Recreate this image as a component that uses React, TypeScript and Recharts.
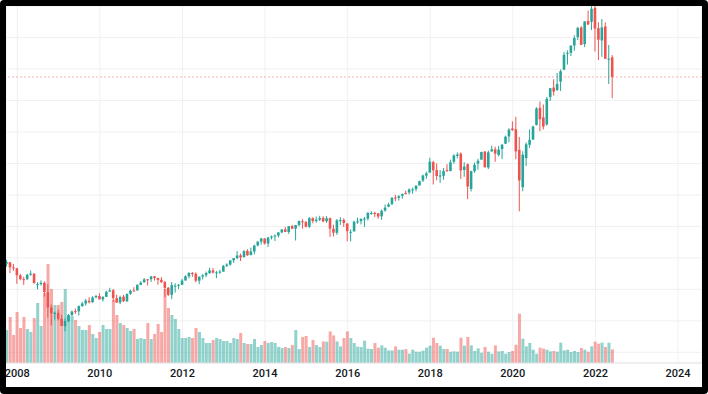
import { ComposedChart, Bar, XAxis, YAxis, CartesianGrid, ReferenceLine } from 'recharts'

// monthly bars, first one is Oct 2007; x = months since Jan 2008
const firstMonth = -3

// OHLC, one row per year (2007 holds Oct-Dec, 2022 holds Jan-Jun)
const opens = [
  1527, 1545, 1479,
  1468, 1378, 1330, 1327, 1386, 1400, 1262, 1267, 1283, 1164, 968, 888,
  903, 826, 730, 794, 872, 923, 920, 987, 1020, 1055, 1037, 1099,
  1116, 1073, 1105, 1171, 1188, 1088, 1032, 1108, 1050, 1143, 1186, 1186,
  1257, 1289, 1328, 1329, 1365, 1345, 1321, 1292, 1220, 1131, 1238, 1246,
  1258, 1313, 1366, 1408, 1398, 1310, 1362, 1380, 1406, 1441, 1412, 1416,
  1426, 1498, 1515, 1569, 1598, 1632, 1610, 1690, 1636, 1682, 1758, 1806,
  1846, 1783, 1858, 1873, 1885, 1924, 1962, 1929, 2004, 1972, 2019, 2066,
  2059, 1997, 2105, 2068, 2087, 2108, 2067, 2105, 1970, 1919, 2079, 2082,
  2038, 1928, 1937, 2057, 2067, 2093, 2099, 2168, 2171, 2168, 2129, 2201,
  2251, 2286, 2368, 2363, 2389, 2426, 2431, 2468, 2475, 2521, 2583, 2646,
  2684, 2817, 2716, 2634, 2643, 2719, 2705, 2822, 2897, 2926, 2718, 2790,
  2476, 2703, 2798, 2849, 2952, 2751, 2953, 2980, 2909, 2983, 3051, 3144,
  3245, 3236, 2974, 2499, 2869, 3038, 3105, 3289, 3508, 3385, 3296, 3645,
  3765, 3732, 3842, 3993, 4193, 4207, 4300, 4407, 4529, 4317, 4611, 4602,
  4778, 4520, 4364, 4541, 4131, 4150,
]
const highs = [
  1576, 1545, 1524,
  1472, 1396, 1359, 1397, 1440, 1404, 1292, 1313, 1303, 1264, 1007, 919,
  943, 877, 832, 888, 930, 956, 996, 1039, 1080, 1101, 1113, 1130,
  1150, 1113, 1181, 1220, 1206, 1132, 1120, 1130, 1149, 1196, 1228, 1263,
  1303, 1344, 1332, 1370, 1371, 1346, 1356, 1308, 1230, 1293, 1277, 1269,
  1333, 1378, 1420, 1422, 1416, 1364, 1392, 1426, 1475, 1471, 1434, 1448,
  1510, 1530, 1570, 1598, 1687, 1654, 1698, 1710, 1730, 1766, 1814, 1850,
  1850, 1868, 1884, 1897, 1925, 1968, 1992, 2006, 2019, 2019, 2076, 2093,
  2064, 2119, 2117, 2126, 2135, 2130, 2133, 2113, 2021, 2094, 2117, 2104,
  2038, 1963, 2072, 2111, 2100, 2120, 2178, 2194, 2188, 2169, 2214, 2278,
  2301, 2371, 2401, 2398, 2418, 2454, 2484, 2491, 2520, 2582, 2658, 2695,
  2873, 2835, 2801, 2717, 2742, 2791, 2848, 2917, 2941, 2940, 2816, 2801,
  2708, 2813, 2860, 2950, 2955, 2964, 3028, 3014, 3022, 3050, 3154, 3248,
  3337, 3394, 3136, 2955, 3068, 3234, 3280, 3515, 3588, 3550, 3646, 3760,
  3871, 3950, 3995, 4218, 4238, 4302, 4430, 4538, 4546, 4608, 4744, 4809,
  4818, 4595, 4637, 4593, 4307, 4178,
]
const lows = [
  1489, 1407, 1435,
  1270, 1316, 1257, 1324, 1373, 1272, 1200, 1248, 1107, 840, 741, 815,
  805, 735, 667, 784, 866, 889, 869, 979, 992, 1020, 1029, 1085,
  1071, 1045, 1105, 1170, 1041, 1029, 1011, 1040, 1040, 1131, 1173, 1186,
  1257, 1289, 1249, 1294, 1311, 1259, 1282, 1101, 1114, 1075, 1159, 1203,
  1258, 1312, 1340, 1358, 1291, 1267, 1325, 1355, 1397, 1403, 1343, 1398,
  1426, 1485, 1501, 1536, 1582, 1560, 1605, 1627, 1633, 1646, 1747, 1768,
  1770, 1738, 1834, 1815, 1860, 1915, 1930, 1905, 1964, 1821, 2001, 1972,
  1988, 1981, 2040, 2048, 2068, 2056, 2044, 1867, 1872, 1893, 2019, 1993,
  1812, 1810, 1937, 2034, 2025, 1992, 2075, 2148, 2120, 2097, 2084, 2188,
  2245, 2271, 2322, 2329, 2353, 2405, 2407, 2417, 2446, 2520, 2566, 2605,
  2683, 2533, 2586, 2553, 2594, 2691, 2699, 2796, 2864, 2604, 2631, 2347,
  2444, 2681, 2722, 2848, 2750, 2729, 2953, 2822, 2892, 2855, 3051, 3070,
  3214, 2855, 2192, 2447, 2767, 2999, 3101, 3284, 3210, 3234, 3280, 3595,
  3663, 3726, 3723, 3987, 4057, 4165, 4234, 4368, 4306, 4279, 4560, 4496,
  4223, 4115, 4157, 4128, 3811, 3630,
]
const closes = [
  1549, 1481, 1468,
  1379, 1331, 1323, 1386, 1400, 1280, 1267, 1283, 1166, 969, 896, 903,
  826, 735, 798, 873, 919, 919, 987, 1021, 1057, 1036, 1096, 1115,
  1074, 1104, 1169, 1187, 1089, 1031, 1102, 1049, 1141, 1183, 1181, 1258,
  1286, 1327, 1326, 1364, 1345, 1321, 1292, 1219, 1131, 1253, 1247, 1258,
  1312, 1366, 1408, 1398, 1310, 1362, 1379, 1407, 1441, 1412, 1416, 1426,
  1498, 1515, 1569, 1598, 1631, 1606, 1686, 1633, 1682, 1757, 1806, 1848,
  1783, 1859, 1872, 1884, 1924, 1960, 1931, 2003, 1972, 2018, 2068, 2059,
  1995, 2105, 2068, 2086, 2107, 2063, 2104, 1972, 1920, 2079, 2080, 2044,
  1940, 1932, 2060, 2065, 2097, 2099, 2174, 2171, 2168, 2126, 2199, 2239,
  2279, 2364, 2363, 2384, 2412, 2423, 2470, 2472, 2519, 2575, 2648, 2674,
  2824, 2714, 2641, 2648, 2705, 2718, 2816, 2902, 2914, 2712, 2760, 2507,
  2704, 2784, 2834, 2946, 2752, 2942, 2980, 2926, 2977, 3038, 3141, 3231,
  3226, 2954, 2585, 2912, 3044, 3100, 3271, 3500, 3363, 3270, 3622, 3756,
  3714, 3811, 3973, 4181, 4204, 4298, 4395, 4523, 4308, 4605, 4567, 4766,
  4516, 4374, 4530, 4132, 4132, 3900,
]
// volume, rough relative units
const volumes = [
  33, 46, 28,
  51, 35, 46, 34, 31, 45, 60, 37, 70, 99, 74, 58,
  58, 61, 74, 47, 47, 43, 37, 33, 33, 38, 29, 25,
  31, 38, 34, 34, 63, 48, 40, 38, 35, 32, 34, 24,
  25, 24, 40, 24, 29, 39, 31, 74, 55, 48, 44, 34,
  25, 25, 26, 25, 35, 31, 25, 20, 20, 23, 25, 24,
  22, 22, 20, 25, 24, 30, 20, 19, 19, 24, 16, 18,
  22, 20, 21, 20, 16, 15, 16, 15, 18, 33, 14, 26,
  27, 16, 23, 18, 16, 21.6, 21.3, 31.6, 27.6, 21.6, 16.6, 25,
  31.6, 25, 20, 16.3, 16, 22.3, 14.3, 14, 20, 15.3, 17.6, 15.3,
  12.6, 12.6, 16.6, 13.3, 13.3, 14, 9.3, 13.3, 11.3, 11.3, 12.3, 15.3,
  17.3, 25.3, 20, 17.3, 14, 14, 11.3, 11.6, 11.3, 25.3, 17.3, 26,
  17.6, 12, 14.6, 10.3, 16, 11.3, 9.3, 17.6, 11.6, 12, 9.3, 11,
  12, 18.3, 49.3, 24.3, 16.6, 20, 13.3, 9.3, 15.3, 14.3, 13.3, 11.6,
  12, 11.3, 20.3, 12.6, 13.3, 11, 12, 11, 15, 13.3, 11.3, 16.6,
  21.3, 19.3, 20.3, 16, 20.3, 13.6,
]

const yearTicks = [2008, 2010, 2012, 2014, 2016, 2018, 2020, 2022, 2024]
const priceTicks = [400, 800, 1200, 1600, 2000, 2400, 2800, 3200, 3600, 4000, 4400]

const UP = '#26a69a'
const DOWN = '#ef5350'
const VOL_UP = 'rgba(38, 166, 154, 0.5)'
const VOL_DOWN = 'rgba(239, 83, 80, 0.5)'

const data = opens.map((open, i) => ({
  t: firstMonth + i,
  open,
  high: highs[i],
  low: lows[i],
  close: closes[i],
  range: [lows[i], highs[i]],
  volume: volumes[i],
}))

const lastClose = closes[closes.length - 1]

function Candle(props: any) {
  const { x, y, width, height } = props
  const p = props.payload ?? props
  if (y == null || height == null) return null
  const span = p.high - p.low || 1
  const toY = (v: number) => y + ((p.high - v) / span) * height
  const color = p.close >= p.open ? UP : DOWN
  const cx = x + width / 2
  const top = toY(Math.max(p.open, p.close))
  const bottom = toY(Math.min(p.open, p.close))
  return (
    <g>
      <line x1={cx} x2={cx} y1={y} y2={y + height} stroke={color} strokeWidth={1} />
      <rect x={x} y={top} width={width} height={Math.max(1, bottom - top)} fill={color} />
    </g>
  )
}

function VolumeBar(props: any) {
  const { x, y, width, height } = props
  const p = props.payload ?? props
  if (y == null || height == null) return null
  return <rect x={x} y={y} width={width} height={height} fill={p.close >= p.open ? VOL_UP : VOL_DOWN} />
}

export default function App() {
  const xDomain = [-3.28, 198.98]
  return (
    <div style={{ position: 'fixed', left: 0, top: 0, width: 708, height: 394, background: '#000', borderRadius: 4 }}>
      <div style={{ position: 'absolute', left: 6, top: 6, width: 696, height: 381, background: '#fff' }}>
        <ComposedChart width={696} height={381} data={data} margin={{ top: 0, right: 0, bottom: 0, left: 0 }}>
          <CartesianGrid xAxisId={0} yAxisId="p" stroke="#f0f0f0" />
          <XAxis
            xAxisId={0}
            type="number"
            dataKey="t"
            domain={xDomain}
            allowDataOverflow
            ticks={yearTicks.map(y => (y - 2008) * 12)}
            tickFormatter={(v: number) => String(2008 + v / 12)}
            height={24}
            tickLine={false}
            tickMargin={0}
            axisLine={{ stroke: '#e6e6e6' }}
            tick={{ fill: '#131722', fontSize: 11, fontWeight: 500, fontFamily: 'Roboto, sans-serif' }}
            interval={0}
          />
          <XAxis xAxisId="v" type="number" dataKey="t" domain={xDomain} allowDataOverflow hide />
          <YAxis yAxisId="p" orientation="right" domain={[264, 4802]} ticks={priceTicks} allowDataOverflow hide />
          <YAxis yAxisId="v" orientation="right" domain={[0, 357]} allowDataOverflow hide />
          <ReferenceLine
            xAxisId={0}
            yAxisId="p"
            y={lastClose}
            stroke={DOWN}
            strokeOpacity={0.45}
            strokeDasharray="2 2"
          />
          <Bar
            xAxisId="v"
            yAxisId="v"
            dataKey="volume"
            barSize={3}
            shape={VolumeBar}
            isAnimationActive={false}
          />
          <Bar
            xAxisId={0}
            yAxisId="p"
            dataKey="range"
            barSize={2.6}
            shape={Candle}
            isAnimationActive={false}
          />
        </ComposedChart>
      </div>
    </div>
  )
}
